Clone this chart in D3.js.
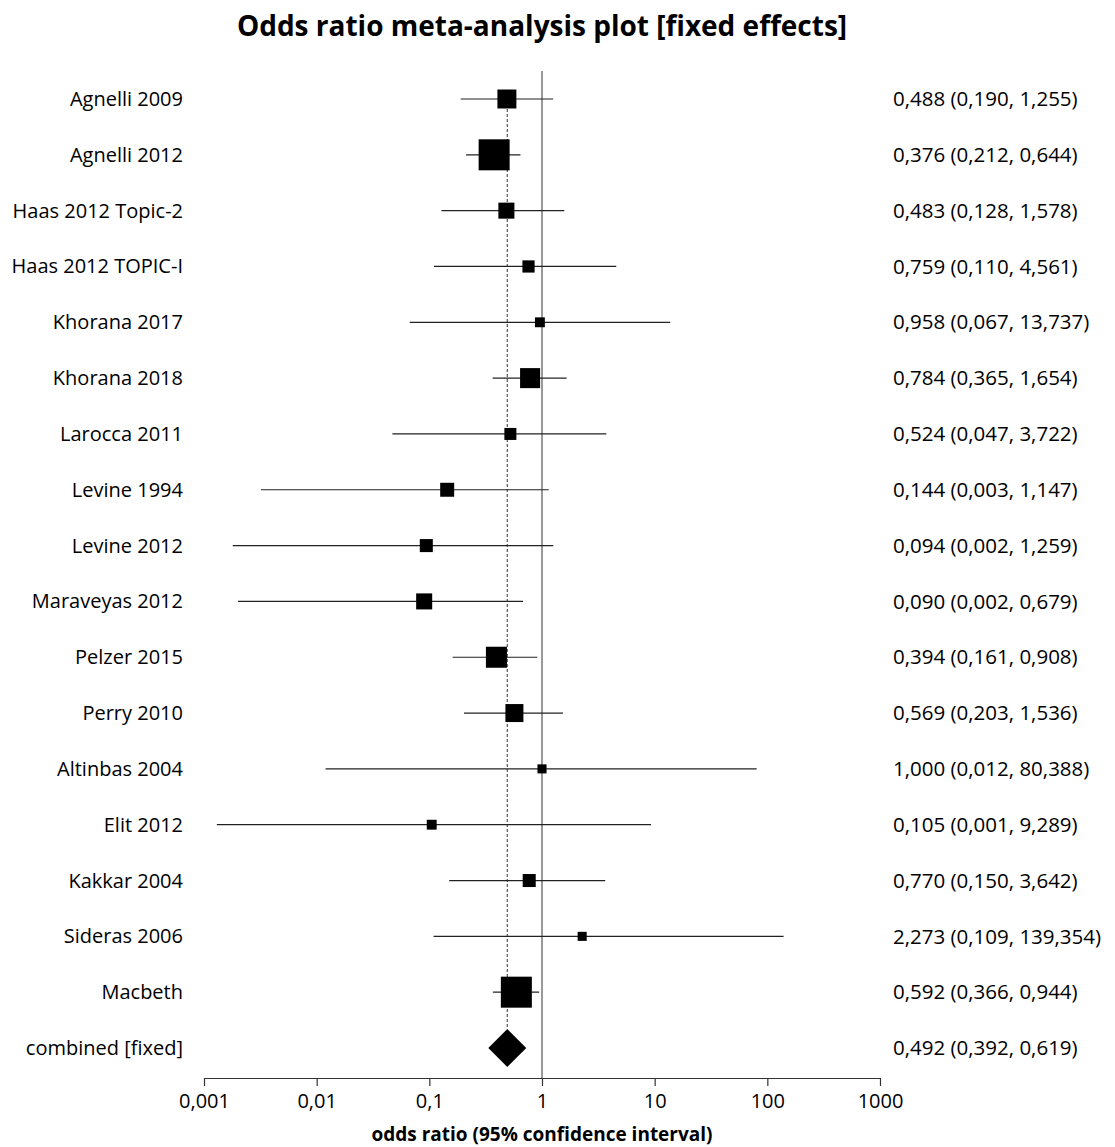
<!DOCTYPE html>
<html>
<head>
<meta charset="utf-8">
<script src="https://cdn.jsdelivr.net/npm/d3@7"></script>
<style>
  body { margin: 0; background: #fff; }
  text { font-family: "Open Sans", "Noto Sans", sans-serif; }
</style>
</head>
<body>
<div id="app"></div>
<script>
// study names, odds ratios, confidence limits and weights (%)
const studies = ["Agnelli 2009", "Agnelli 2012", "Haas 2012 Topic-2", "Haas 2012 TOPIC-I",
  "Khorana 2017", "Khorana 2018", "Larocca 2011", "Levine 1994", "Levine 2012",
  "Maraveyas 2012", "Pelzer 2015", "Perry 2010", "Altinbas 2004", "Elit 2012",
  "Kakkar 2004", "Sideras 2006", "Macbeth"];
const oddsRatio = [0.488, 0.376, 0.483, 0.759, 0.958, 0.784, 0.524, 0.144, 0.094,
  0.090, 0.394, 0.569, 1.000, 0.105, 0.770, 2.273, 0.592];
const lower = [0.190, 0.212, 0.128, 0.110, 0.067, 0.365, 0.047, 0.0032, 0.0018,
  0.0020, 0.161, 0.203, 0.012, 0.0013, 0.150, 0.109, 0.366];
const upper = [1.255, 0.644, 1.578, 4.561, 13.737, 1.654, 3.722, 1.147, 1.259,
  0.679, 0.908, 1.536, 80.388, 9.289, 3.642, 139.354, 0.944];
const weight = [7.0, 18.7, 5.0, 2.9, 1.9, 7.8, 2.8, 3.8, 3.3, 5.0, 8.6, 6.3, 1.6, 1.9, 3.3, 1.6, 18.7];

const combinedLabel = "combined [fixed]";
const combined = {or: 0.492, lo: 0.392, hi: 0.619};

const tickValues = [0.001, 0.01, 0.1, 1, 10, 100, 1000];
const tickLabels = ["0,001", "0,01", "0,1", "1", "10", "100", "1000"];

const width = 1115, height = 1147;

const svg = d3.select("#app")
    .append("svg")
    .attr("width", width)
    .attr("height", height);

const locale = d3.formatLocale({decimal: ",", thousands: ".", grouping: [3], currency: ["", ""]});
const f3 = locale.format(".3f");

const rows = studies.map((s, i) => ({name: s, or: oddsRatio[i], lo: lower[i], hi: upper[i], w: weight[i]}));

const x = d3.scaleLog().domain([0.001, 1000]).range([204, 880]);
const y = d3.scalePoint().domain([...studies, combinedLabel]).range([99, 1048]);
const size = d3.scaleSqrt().domain([0, d3.max(weight)]).range([0, 31]);

const axisY = 1078;

// title
svg.append("text")
    .attr("x", 542)
    .attr("y", 36)
    .attr("text-anchor", "middle")
    .style("font-size", "28px")
    .style("font-weight", "bold")
    .text("Odds ratio meta-analysis plot [fixed effects]");

// line of no effect
svg.append("line")
    .attr("x1", x(1)).attr("x2", x(1))
    .attr("y1", 71).attr("y2", axisY)
    .attr("stroke", "#555")
    .attr("stroke-width", 1.2);

// dashed line at combined estimate
svg.append("line")
    .attr("x1", x(combined.or)).attr("x2", x(combined.or))
    .attr("y1", y(studies[0])).attr("y2", y(combinedLabel) - 19)
    .attr("stroke", "#555")
    .attr("stroke-width", 1.2)
    .attr("stroke-dasharray", "3,2");

// confidence intervals
svg.append("g")
    .selectAll("line")
    .data(rows)
    .join("line")
    .attr("x1", d => x(d.lo))
    .attr("x2", d => x(d.hi))
    .attr("y1", d => y(d.name))
    .attr("y2", d => y(d.name))
    .attr("stroke", "#222")
    .attr("stroke-width", 1.2);

// boxes
svg.append("g")
    .selectAll("rect")
    .data(rows)
    .join("rect")
    .attr("x", d => x(d.or) - size(d.w) / 2)
    .attr("y", d => y(d.name) - size(d.w) / 2)
    .attr("width", d => size(d.w))
    .attr("height", d => size(d.w))
    .attr("fill", "#000");

// combined diamond
const cy = y(combinedLabel), cx = x(combined.or);
svg.append("path")
    .attr("d", `M${cx - 19},${cy} L${cx},${cy - 19} L${cx + 19},${cy} L${cx},${cy + 19} Z`)
    .attr("fill", "#000");

// study labels
svg.append("g")
    .selectAll("text")
    .data([...studies, combinedLabel])
    .join("text")
    .attr("x", 183)
    .attr("y", d => y(d))
    .attr("dy", "0.35em")
    .attr("text-anchor", "end")
    .style("font-size", "20px")
    .text(d => d);

// value labels
const valueRows = [...rows, {name: combinedLabel, ...combined}];
svg.append("g")
    .selectAll("text")
    .data(valueRows)
    .join("text")
    .attr("x", 893)
    .attr("y", d => y(d.name))
    .attr("dy", "0.35em")
    .style("font-size", "20.5px")
    .text(d => `${f3(d.or)} (${f3(d.lo)}, ${f3(d.hi)})`);

// x axis
const axis = d3.axisBottom(x)
    .tickValues(tickValues)
    .tickFormat((d, i) => tickLabels[i])
    .tickSize(8)
    .tickSizeOuter(0);

const gx = svg.append("g")
    .attr("transform", `translate(0,${axisY})`)
    .call(axis);
gx.select(".domain").attr("stroke", "#333").attr("stroke-width", 1.2);
gx.selectAll(".tick line").attr("stroke", "#333").attr("stroke-width", 1.2);
gx.selectAll(".tick text")
    .attr("y", 16)
    .style("font-size", "20px")
    .style("font-family", "'Open Sans', sans-serif")
    .attr("fill", "#000");

svg.append("text")
    .attr("x", 542)
    .attr("y", 1141)
    .attr("text-anchor", "middle")
    .style("font-size", "19px")
    .style("font-weight", "bold")
    .text("odds ratio (95% confidence interval)");
</script>
</body>
</html>
